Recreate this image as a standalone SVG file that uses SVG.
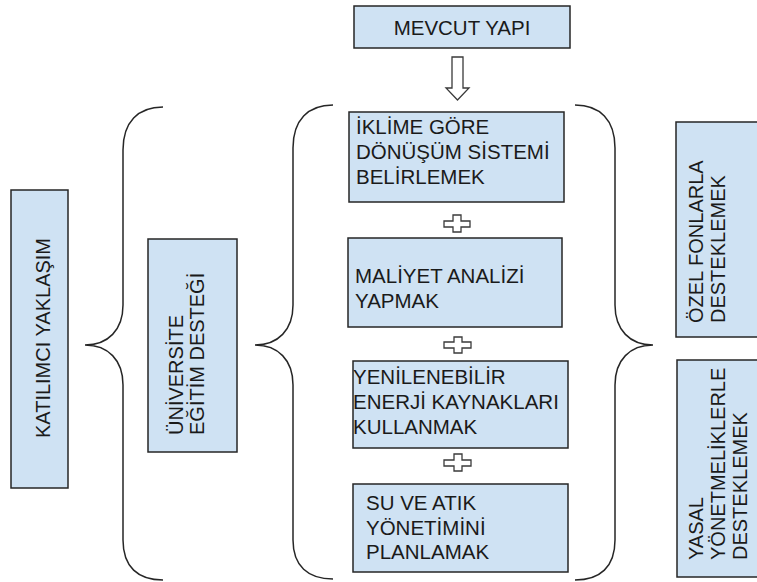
<svg xmlns="http://www.w3.org/2000/svg" width="757" height="582" viewBox="0 0 757 582">
<style>
.box{fill:#cfe2f3;stroke:#262626;stroke-width:1.5}
.t{font-family:"Liberation Sans",Arial,sans-serif;font-size:20px;fill:#1a1a1a}
.h{font-size:20.5px}
.br{fill:none;stroke:#262626;stroke-width:1.5}
.sym{fill:#ffffff;stroke:#3a3a3a;stroke-width:1.3}
</style>
<rect width="757" height="582" fill="#ffffff"/>
<g id="connectors">
<path class="sym" d="M452,57 H463 V88 H469 L457.5,100 L446,88 H452 Z"/>
<path class="sym" d="M453,215 H461 V221 H470 V227 H461 V232 H453 V227 H444 V221 H453 Z"/>
<path class="sym" d="M454,337 H462 V342 H471 V348 H462 V353 H454 V348 H444 V342 H454 Z"/>
<path class="sym" d="M454,454 H462 V460 H471 V466 H462 V471 H454 V466 H444 V460 H454 Z"/>
<path class="br" d="M163,107 C138,107 123,122 123,150 L123,305 C123,330 108,345 85,345 C108,345 123,360 123,385 L123,540 C123,567 138,580 163,580"/>
<path class="br" d="M333,105 C308,105 293,120 293,148 L293,305 C293,330 278,345 255,345 C278,345 293,360 293,385 L293,540 C293,566 308,579 333,579"/>
<path class="br" d="M575,105 C600,105 615,120 615,148 L615,305 C615,330 630,345 653,345 C630,345 615,360 615,385 L615,540 C615,567 600,580 575,580"/>
</g>
<g id="mevcut">
<rect class="box" x="354" y="6" width="216" height="42"/>
<text class="t h" x="462" y="35" text-anchor="middle">MEVCUT YAPI</text>
</g>
<g id="iklime">
<rect class="box" x="349" y="112" width="215" height="90"/>
<text class="t h" x="356" y="134">İKLİME GÖRE</text>
<text class="t h" x="356" y="159">DÖNÜŞÜM SİSTEMİ</text>
<text class="t h" x="356" y="184">BELİRLEMEK</text>
</g>
<g id="maliyet">
<rect class="box" x="348" y="238" width="214" height="89"/>
<text class="t h" x="355" y="283">MALİYET ANALİZİ</text>
<text class="t h" x="355" y="308">YAPMAK</text>
</g>
<g id="yenilenebilir">
<rect class="box" x="353" y="361" width="215" height="87"/>
<text class="t h" x="353" y="384">YENİLENEBİLİR</text>
<text class="t h" x="353" y="409">ENERJİ KAYNAKLARI</text>
<text class="t h" x="353" y="434">KULLANMAK</text>
</g>
<g id="su">
<rect class="box" x="353" y="484" width="215" height="88"/>
<text class="t h" x="366" y="510">SU VE ATIK</text>
<text class="t h" x="366" y="535">YÖNETİMİNİ</text>
<text class="t h" x="366" y="559">PLANLAMAK</text>
</g>
<g id="katilimci">
<rect class="box" x="11" y="190" width="57" height="298"/>
<text class="t" transform="translate(50,338) rotate(-90)" text-anchor="middle">KATILIMCI YAKLAŞIM</text>
</g>
<g id="universite">
<rect class="box" x="148" y="239" width="89" height="213"/>
<text class="t" transform="translate(183,435) rotate(-90)">ÜNİVERSİTE</text>
<text class="t" transform="translate(204,435) rotate(-90)">EĞİTİM DESTEĞİ</text>
</g>
<g id="ozel">
<rect class="box" x="676" y="122" width="90" height="215"/>
<text class="t" transform="translate(703,323) rotate(-90)">ÖZEL FONLARLA</text>
<text class="t" transform="translate(725,323) rotate(-90)">DESTEKLEMEK</text>
</g>
<g id="yasal">
<rect class="box" x="677" y="360" width="90" height="217"/>
<text class="t" transform="translate(703,560) rotate(-90)">YASAL</text>
<text class="t" transform="translate(725,560) rotate(-90)">YÖNETMELİKLERLE</text>
<text class="t" transform="translate(747,560) rotate(-90)">DESTEKLEMEK</text>
</g>
</svg>
